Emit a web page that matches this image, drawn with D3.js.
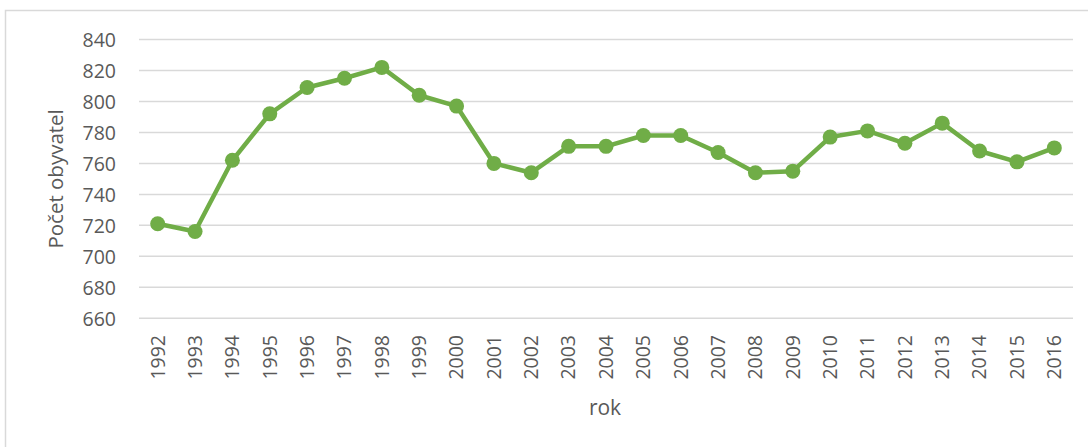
<!DOCTYPE html>
<html>
<head>
<meta charset="utf-8">
<script src="https://cdn.jsdelivr.net/npm/d3@7"></script>
<style>
html,body{margin:0;padding:0;background:#fff;}
svg{display:block;}
</style>
</head>
<body>
<svg id="chart" width="1088" height="447"></svg>
<script>
const years = ["1992","1993","1994","1995","1996","1997","1998","1999","2000","2001","2002","2003","2004","2005","2006","2007","2008","2009","2010","2011","2012","2013","2014","2015","2016"];
const population = [721,716,762,792,809,815,822,804,797,760,754,771,771,778,778,767,754,755,777,781,773,786,768,761,770];
const yTicks = [660,680,700,720,740,760,780,800,820,840];
const yTitle = "Počet obyvatel";
const xTitle = "rok";

const svg = d3.select("#chart");
const font = "'Open Sans', Lato, sans-serif";
const textColor = "#595959";

const plotLeft = 139, plotRight = 1073, plotTop = 39.5, plotBottom = 318.3;

svg.append("rect")
  .attr("x", 5.5).attr("y", 10.5)
  .attr("width", 1200).attr("height", 600)
  .attr("fill", "none").attr("stroke", "#d9d9d9").attr("stroke-width", 1.5);

const x = d3.scaleBand().domain(years).range([plotLeft, plotRight]);
const y = d3.scaleLinear().domain([660, 840]).range([plotBottom, plotTop]);

// gridlines
svg.append("g").selectAll("line").data(yTicks).join("line")
  .attr("x1", plotLeft).attr("x2", plotRight)
  .attr("y1", d => y(d)).attr("y2", d => y(d))
  .attr("stroke", "#d9d9d9").attr("stroke-width", 1.5);

// y axis labels
const yAxis = d3.axisLeft(y).tickValues(yTicks).tickSize(0).tickPadding(0);
const gy = svg.append("g").attr("transform", `translate(${116},0)`).call(yAxis);
gy.select(".domain").remove();
gy.selectAll("text").attr("font-family", font).attr("font-size", 19.5).attr("fill", textColor).attr("dy", "0.35em");

// x axis labels
const xAxis = d3.axisBottom(x).tickSize(0).tickPadding(0);
const gx = svg.append("g").attr("transform", `translate(0,${335})`).call(xAxis);
gx.select(".domain").remove();
gx.selectAll("text")
  .attr("font-family", font).attr("font-size", 19.5).attr("fill", textColor)
  .attr("transform", "rotate(-90)")
  .attr("text-anchor", "end")
  .attr("x", 0).attr("y", 0).attr("dy", "0.35em");

// titles
svg.append("text")
  .attr("transform", `translate(63,${(plotTop + plotBottom) / 2}) rotate(-90)`)
  .attr("text-anchor", "middle")
  .attr("font-family", font).attr("font-size", 20.5).attr("fill", textColor)
  .text(yTitle);

svg.append("text")
  .attr("x", 605).attr("y", 415)
  .attr("text-anchor", "middle")
  .attr("font-family", font).attr("font-size", 21).attr("fill", textColor)
  .text(xTitle);

// line
const cx = d => x(d) + x.bandwidth() / 2;
const line = d3.line().x((d, i) => cx(years[i])).y(d => y(d));
svg.append("path").datum(population)
  .attr("d", line).attr("fill", "none")
  .attr("stroke", "#70AD47").attr("stroke-width", 4.5).attr("stroke-linejoin", "round");

svg.append("g").selectAll("circle").data(population).join("circle")
  .attr("cx", (d, i) => cx(years[i])).attr("cy", d => y(d))
  .attr("r", 7.5).attr("fill", "#70AD47");
</script>
</body>
</html>
